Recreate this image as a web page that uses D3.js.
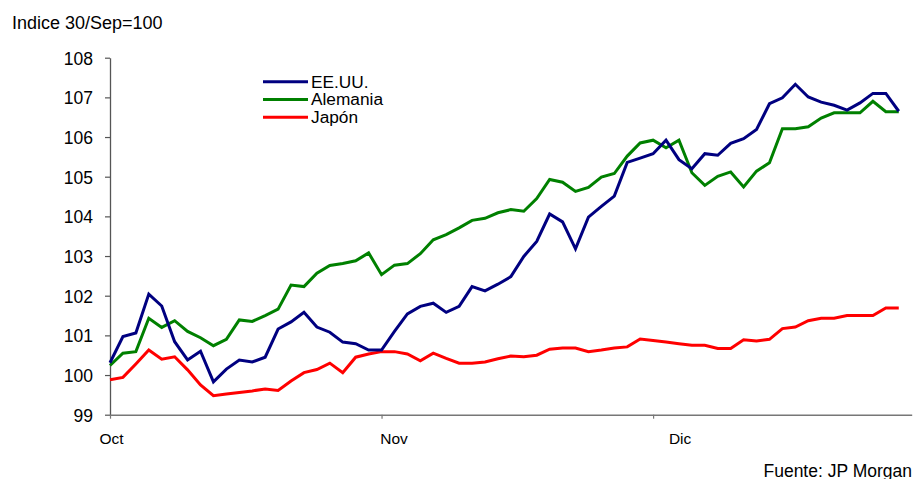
<!DOCTYPE html>
<html>
<head>
<meta charset="utf-8">
<script src="https://cdn.jsdelivr.net/npm/d3@7"></script>
<style>
  body { margin: 0; background: #fff; }
  svg text { font-family: "Liberation Sans", Arial, sans-serif; fill: #000; }
</style>
</head>
<body>
<div class="chart"></div>
<script>
// Series, one value per trading day (30/Sep = 100)
var eeuu = [100.31, 100.97, 101.06, 102.04, 101.74, 100.84, 100.38, 100.60, 99.83, 100.15,
            100.38, 100.33, 100.45, 101.16, 101.34, 101.58, 101.21, 101.08, 100.83, 100.79,
            100.63, 100.63, 101.10, 101.54, 101.73, 101.81, 101.58, 101.73, 102.23, 102.12,
            102.29, 102.48, 102.99, 103.37, 104.06, 103.86, 103.18, 103.98, 104.25, 104.51,
            105.36, 105.47, 105.58, 105.92, 105.43, 105.20, 105.58, 105.54, 105.84, 105.96,
            106.19, 106.84, 106.99, 107.33, 107.01, 106.88, 106.80, 106.68, 106.86, 107.10,
            107.10, 106.65];
var alemania = [100.24, 100.55, 100.59, 101.43, 101.20, 101.37, 101.10, 100.94, 100.74, 100.90,
                101.39, 101.35, 101.50, 101.66, 102.27, 102.23, 102.57, 102.76, 102.81, 102.88,
                103.08, 102.53, 102.77, 102.81, 103.06, 103.41, 103.54, 103.71, 103.90, 103.95,
                104.09, 104.17, 104.13, 104.45, 104.93, 104.86, 104.63, 104.73, 104.99, 105.08,
                105.52, 105.85, 105.92, 105.73, 105.92, 105.10, 104.78, 105.01, 105.12, 104.74,
                105.14, 105.35, 106.21, 106.21, 106.26, 106.48, 106.61, 106.61, 106.61, 106.90,
                106.64, 106.64];
var japon = [99.88, 99.94, 100.28, 100.63, 100.40, 100.46, 100.13, 99.75, 99.48, 99.52,
             99.56, 99.60, 99.65, 99.61, 99.85, 100.06, 100.14, 100.30, 100.06, 100.45,
             100.53, 100.59, 100.59, 100.53, 100.36, 100.55, 100.42, 100.30, 100.30, 100.33,
             100.41, 100.48, 100.46, 100.50, 100.65, 100.68, 100.68, 100.59, 100.63, 100.68,
             100.71, 100.91, 100.87, 100.83, 100.79, 100.75, 100.75, 100.67, 100.67, 100.89,
             100.86, 100.90, 101.17, 101.21, 101.37, 101.43, 101.43, 101.50, 101.50, 101.50,
             101.69, 101.69];

var seriesNames = ["EE.UU.", "Alemania", "Japón"];
var monthLabels = ["Oct", "Nov", "Dic"];
var monthStart = [0, 21, 42];          // day index where each month begins
var yTicks = [99, 100, 101, 102, 103, 104, 105, 106, 107, 108];

var colors = ["#000080", "#008000", "#ff0000"];

var svgWidth = 919, svgHeight = 479;
var margin = {top: 57.7, left: 110};
var width = 801.7, height = 357;

var svg = d3.select(".chart").append("svg")
    .attr("width", svgWidth)
    .attr("height", svgHeight);

var chart = svg.append("g")
    .attr("transform", "translate(" + margin.left + "," + margin.top + ")");

var xScale = d3.scaleLinear().domain([0, 62]).range([0, width]);
var yScale = d3.scaleLinear().domain([99, 108]).range([height, 0]);

// y axis
var leftAxis = d3.axisLeft(yScale).tickValues(yTicks).tickSize(5).tickSizeOuter(0).tickPadding(12);
var gy = chart.append("g").call(leftAxis);
gy.select(".domain").attr("stroke", "#555").attr("stroke-width", 1.3);
gy.selectAll(".tick line").attr("stroke", "#555").attr("stroke-width", 1.2);
gy.selectAll(".tick text").style("font-size", "17.5px").attr("dy", "0.36em");

// x axis (month ticks only, labels drawn separately)
var bottomAxis = d3.axisBottom(xScale).tickValues(monthStart).tickSize(4).tickSizeOuter(0).tickFormat("");
var gx = chart.append("g")
    .attr("transform", "translate(0," + height + ")")
    .call(bottomAxis);
gx.select(".domain").attr("stroke", "#777").attr("stroke-width", 1.5);
gx.selectAll(".tick line").attr("stroke", "#777").attr("stroke-width", 1.2);

// month labels sit a little right of their tick, as in the original
var labelNudge = [1.5, 12.5, 27];
chart.selectAll(".month")
    .data(monthLabels)
    .enter().append("text")
    .attr("class", "month")
    .attr("x", function(d, i) { return xScale(monthStart[i]) + labelNudge[i]; })
    .attr("y", height + 29.5)
    .attr("text-anchor", "middle")
    .style("font-size", "15.5px")
    .text(function(d) { return d; });

// lines
var line = d3.line()
    .x(function(d, i) { return xScale(i); })
    .y(function(d) { return yScale(d); });

var allSeries = [eeuu, alemania, japon];
// draw red first so blue/green sit on top
[2, 1, 0].forEach(function(k) {
    chart.append("path")
        .datum(allSeries[k])
        .attr("fill", "none")
        .attr("stroke", colors[k])
        .attr("stroke-width", 3)
        .attr("stroke-linejoin", "miter")
        .attr("d", line);
});

// legend
var legend = svg.append("g").attr("transform", "translate(263,81.7)");
seriesNames.forEach(function(name, i) {
    legend.append("line")
        .attr("x1", 0).attr("x2", 45)
        .attr("y1", i * 17.8).attr("y2", i * 17.8)
        .attr("stroke", colors[i])
        .attr("stroke-width", 3);
    legend.append("text")
        .attr("x", 48)
        .attr("y", i * 17.8 + 6)
        .style("font-size", "17.3px")
        .text(name);
});

// title and source
svg.append("text")
    .attr("x", 12).attr("y", 28.5)
    .style("font-size", "18px")
    .text("Indice 30/Sep=100");

svg.append("text")
    .attr("x", 912).attr("y", 476.5)
    .attr("text-anchor", "end")
    .style("font-size", "17.5px")
    .text("Fuente: JP Morgan");
</script>
</body>
</html>
